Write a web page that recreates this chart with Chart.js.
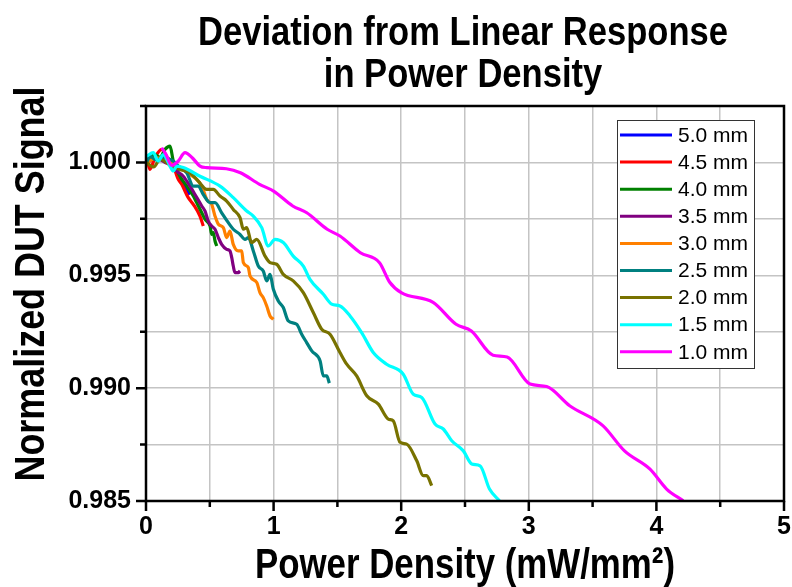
<!DOCTYPE html>
<html>
<head>
<meta charset="utf-8">
<script src="https://cdn.jsdelivr.net/npm/chart.js@4.4.1/dist/chart.umd.min.js"></script>
<style>
html, body { margin: 0; padding: 0; background: #fff; }
</style>
</head>
<body>
<canvas id="myChart" width="792" height="587"></canvas>
<script>
// series names and colours (legend order)
const labels = ['5.0 mm', '4.5 mm', '4.0 mm', '3.5 mm', '3.0 mm', '2.5 mm', '2.0 mm', '1.5 mm', '1.0 mm'];
const colors = ['#0000ff', '#ff0000', '#008000', '#800080', '#ff8000', '#008080', '#787200', '#00ffff', '#ff00ff'];

// power density (mW/mm^2) and normalized signal
const x50 = [0.01, 0.05, 0.09, 0.14, 0.19, 0.235, 0.275, 0.305, 0.345];
const y50 = [1.0000, 1.00027, 1.00013, 1.0003, 1.0000, 0.9996, 0.99916, 0.9989, 0.99858];

const x45 = [0.01, 0.03, 0.07, 0.123, 0.165, 0.204, 0.253, 0.28, 0.33, 0.376, 0.423, 0.449];
const y45 = [1.00013, 0.99969, 1.00022, 1.00058, 1.00022, 1.0, 0.99925, 0.99903, 0.99845, 0.9981, 0.99762, 0.99718];

const x40 = [0.01, 0.07, 0.11, 0.149, 0.188, 0.214, 0.266, 0.319, 0.371, 0.397, 0.437, 0.462, 0.502, 0.515, 0.527, 0.541, 0.554];
const y40 = [1.0, 1.00035, 1.00022, 1.00058, 1.00072, 1.00006, 0.99939, 0.99895, 0.99851, 0.99822, 0.99777, 0.99748, 0.99718, 0.99681, 0.99689, 0.99652, 0.9963];

const x35 = [0.01, 0.08, 0.15, 0.2, 0.241, 0.292, 0.345, 0.384, 0.437, 0.462, 0.488, 0.515, 0.541, 0.567, 0.593, 0.632, 0.658, 0.672, 0.684, 0.697, 0.723, 0.737];
const y35 = [1.0, 1.0002, 1.0, 0.9999, 0.99962, 0.99939, 0.99895, 0.99858, 0.99807, 0.99785, 0.9974, 0.99718, 0.99704, 0.99667, 0.99637, 0.99615, 0.99608, 0.99578, 0.99541, 0.99512, 0.99512, 0.99519];

const x30 = [0.01, 0.08, 0.15, 0.22, 0.27, 0.345, 0.397, 0.437, 0.476, 0.515, 0.541, 0.567, 0.606, 0.632, 0.658, 0.684, 0.723, 0.75, 0.763, 0.802, 0.815, 0.868, 0.893, 0.919, 0.946, 0.972, 0.998];
const y30 = [1.0, 1.0002, 1.00013, 0.99995, 0.99978, 0.99947, 0.99925, 0.99895, 0.99836, 0.99814, 0.99762, 0.99726, 0.99711, 0.99667, 0.99696, 0.99637, 0.99608, 0.99608, 0.99556, 0.99534, 0.99497, 0.99468, 0.99423, 0.99401, 0.99364, 0.9932, 0.99305];

const x25 = [0.005, 0.031, 0.08, 0.136, 0.214, 0.266, 0.319, 0.371, 0.41, 0.449, 0.502, 0.541, 0.593, 0.645, 0.684, 0.737, 0.776, 0.802, 0.841, 0.88, 0.919, 0.946, 0.972, 0.998, 1.037, 1.076, 1.115, 1.181, 1.22, 1.259, 1.299, 1.364, 1.39, 1.416, 1.437];
const y25 = [1.0, 1.00028, 1.0001, 1.00021, 1.00006, 0.99977, 0.99954, 0.99895, 0.99895, 0.99858, 0.99822, 0.99822, 0.99777, 0.99733, 0.99704, 0.99681, 0.99659, 0.99667, 0.99608, 0.99541, 0.99519, 0.99475, 0.99504, 0.99438, 0.99386, 0.99357, 0.99298, 0.99283, 0.99239, 0.99202, 0.99165, 0.99121, 0.99054, 0.99054, 0.99022];

const x20 = [0.005, 0.06, 0.11, 0.201, 0.266, 0.345, 0.41, 0.476, 0.527, 0.58, 0.632, 0.684, 0.737, 0.763, 0.789, 0.828, 0.868, 0.933, 0.972, 1.024, 1.076, 1.154, 1.233, 1.311, 1.377, 1.442, 1.52, 1.573, 1.651, 1.73, 1.821, 1.899, 1.938, 1.991, 2.043, 2.122, 2.173, 2.2, 2.239];
const y20 = [0.99999, 0.9998, 1.00013, 0.99984, 0.99969, 0.99954, 0.99917, 0.99881, 0.99881, 0.99851, 0.99829, 0.99792, 0.99755, 0.99704, 0.99711, 0.99645, 0.99659, 0.99585, 0.99556, 0.99549, 0.99504, 0.99475, 0.99423, 0.99335, 0.99261, 0.99239, 0.99158, 0.99106, 0.99054, 0.98966, 0.98929, 0.98863, 0.98855, 0.9876, 0.98752, 0.98678, 0.98612, 0.98612, 0.98568];

const x15 = [0.005, 0.057, 0.096, 0.136, 0.188, 0.214, 0.241, 0.292, 0.423, 0.58, 0.684, 0.789, 0.841, 0.907, 0.958, 1.011, 1.076, 1.154, 1.233, 1.285, 1.39, 1.455, 1.52, 1.599, 1.69, 1.781, 1.886, 2.016, 2.095, 2.161, 2.265, 2.33, 2.396, 2.487, 2.553, 2.618, 2.692, 2.77];
const y15 = [1.00028, 1.00043, 1.00006, 1.00035, 0.99984, 0.99962, 0.99984, 0.99977, 0.99939, 0.99895, 0.99844, 0.99785, 0.99762, 0.99711, 0.9963, 0.99659, 0.99645, 0.99585, 0.99541, 0.99482, 0.99416, 0.99372, 0.99364, 0.9932, 0.99246, 0.99158, 0.99106, 0.99062, 0.98973, 0.98959, 0.98841, 0.98819, 0.98767, 0.98722, 0.98664, 0.98656, 0.98553, 0.98501];

const x10 = [0.123, 0.157, 0.201, 0.25, 0.306, 0.36, 0.423, 0.476, 0.63, 0.74, 0.89, 1.0, 1.15, 1.26, 1.42, 1.52, 1.68, 1.83, 1.91, 2.0, 2.25, 2.43, 2.55, 2.72, 2.83, 3.01, 3.14, 3.32, 3.58, 3.75, 3.95, 4.08, 4.21];
const y10 = [1.00065, 1.00035, 0.99987, 1.00004, 1.00043, 1.00022, 0.99984, 0.99977, 0.99972, 0.99954, 0.99903, 0.99873, 0.99807, 0.99777, 0.99704, 0.99674, 0.996, 0.99556, 0.99469, 0.99423, 0.9938, 0.99283, 0.99253, 0.99146, 0.99138, 0.99018, 0.99007, 0.98922, 0.98834, 0.98722, 0.98641, 0.98553, 0.98501];

const xs = [x50, x45, x40, x35, x30, x25, x20, x15, x10];
const ys = [y50, y45, y40, y35, y30, y25, y20, y15, y10];

const titleLines = ['Deviation from Linear Response', 'in Power Density'];
const xTitle = 'Power Density (mW/mm²)';
const yTitle = 'Normalized DUT Signal';

const bodyFamily = '"Liberation Sans", Arial, sans-serif';

const datasets = labels.map((lab, i) => ({
    label: lab,
    data: xs[i].map((v, j) => ({x: v, y: ys[i][j]})),
    borderColor: colors[i],
    backgroundColor: colors[i],
    borderWidth: 3.2,
    pointRadius: 0,
    cubicInterpolationMode: 'monotone',
    fill: false,
    order: labels.length - i
}));

function isMajorY(v) {
    return Math.abs(v * 200 - Math.round(v * 200)) < 1e-6;
}

// bold heading squeezed sideways (the original uses a narrow face)
function heading(ctx, text, size, width, scale) {
    ctx.font = 'bold ' + size + 'px ' + bodyFamily;
    const w = ctx.measureText(text).width;
    const s = scale || width / w;
    ctx.save();
    ctx.scale(s, 1);
    ctx.fillText(text, 0, 0);
    ctx.restore();
    return s;
}

// frame, tick marks, titles and legend box
const decor = {
    id: 'decor',
    afterDraw(chart) {
        const {ctx, chartArea: a} = chart;
        const sx = chart.scales.x, sy = chart.scales.y;
        ctx.save();
        ctx.strokeStyle = '#000';
        ctx.lineWidth = 2.5;
        ctx.beginPath();
        sx.ticks.forEach(t => {
            const px = sx.getPixelForValue(t.value);
            const len = Number.isInteger(t.value) ? 10 : 6;
            ctx.moveTo(px, a.bottom);
            ctx.lineTo(px, a.bottom + len);
        });
        sy.ticks.forEach(t => {
            const py = sy.getPixelForValue(t.value);
            const len = isMajorY(t.value) ? 10 : 6;
            ctx.moveTo(a.left - len, py);
            ctx.lineTo(a.left, py);
        });
        ctx.stroke();
        ctx.strokeRect(a.left, a.top, a.right - a.left, a.bottom - a.top);

        ctx.fillStyle = '#000';
        ctx.textAlign = 'center';
        ctx.textBaseline = 'alphabetic';
        const cx = (a.left + a.right) / 2 - 2;

        // chart title
        ctx.save();
        ctx.translate(cx, 45);
        const s = heading(ctx, titleLines[0], 41, 530);
        ctx.restore();
        ctx.save();
        ctx.translate(cx, 87);
        heading(ctx, titleLines[1], 41, 0, s);
        ctx.restore();

        // x axis title
        ctx.save();
        ctx.translate(cx + 2, 578);
        heading(ctx, xTitle, 43, 420);
        ctx.restore();

        // y axis title
        ctx.save();
        ctx.translate(44, 284);
        ctx.rotate(-Math.PI / 2);
        heading(ctx, yTitle, 43, 395);
        ctx.restore();

        // legend
        const x0 = a.right - 167, y0 = a.top + 14, w = 137, h = 248;
        ctx.fillStyle = '#fff';
        ctx.fillRect(x0, y0, w, h);
        ctx.lineWidth = 1;
        ctx.strokeStyle = '#333';
        ctx.strokeRect(x0 + 0.5, y0 + 0.5, w, h);
        ctx.font = '21px ' + bodyFamily;
        ctx.textAlign = 'left';
        ctx.textBaseline = 'middle';
        chart.data.datasets.forEach((ds, i) => {
            const cy = y0 + 15 + i * 27.1;
            ctx.strokeStyle = ds.borderColor;
            ctx.lineWidth = 3;
            ctx.beginPath();
            ctx.moveTo(x0 + 3, cy);
            ctx.lineTo(x0 + 55, cy);
            ctx.stroke();
            ctx.fillStyle = '#000';
            ctx.fillText(ds.label, x0 + 61, cy + 1);
        });
        ctx.restore();
    }
};

const elem = document.getElementById('myChart');
const chart = new Chart(elem, {
    type: 'line',
    data: { datasets: datasets },
    plugins: [decor],
    options: {
        responsive: false,
        animation: false,
        devicePixelRatio: 1,
        layout: { padding: { left: 0, right: 8, top: 106, bottom: 0 } },
        plugins: {
            legend: { display: false },
            tooltip: { enabled: false },
            title: { display: false }
        },
        scales: {
            x: {
                type: 'linear',
                min: 0,
                max: 5,
                afterFit(scale) {
                    scale.height = 86;
                    scale.paddingLeft = 0;
                    scale.paddingRight = 0;
                },
                ticks: {
                    stepSize: 0.5,
                    autoSkip: false,
                    maxRotation: 0,
                    padding: 1,
                    color: '#000',
                    font: { family: bodyFamily, size: 25, weight: 'bold' },
                    callback: v => Number.isInteger(v) ? String(v) : ''
                },
                grid: { color: '#c4c4c4', lineWidth: 1.5, tickLength: 10, tickColor: 'rgba(0,0,0,0)' },
                border: { display: false }
            },
            y: {
                type: 'linear',
                min: 0.985,
                max: 1.0025,
                afterFit(scale) {
                    scale.width = 146;
                    scale.paddingTop = 0;
                    scale.paddingBottom = 0;
                },
                ticks: {
                    stepSize: 0.0025,
                    autoSkip: false,
                    padding: 5,
                    color: '#000',
                    font: { family: bodyFamily, size: 25, weight: 'bold' },
                    callback: v => isMajorY(v) ? v.toFixed(3) : ''
                },
                grid: { color: '#c4c4c4', lineWidth: 1.5, tickLength: 10, tickColor: 'rgba(0,0,0,0)' },
                border: { display: false }
            }
        }
    }
});
</script>
</body>
</html>
